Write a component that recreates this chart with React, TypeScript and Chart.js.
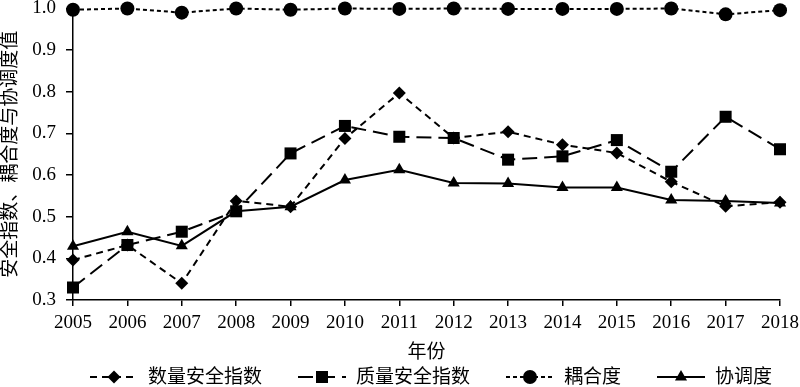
import React, { useEffect, useRef } from 'react';
import { Chart, registerables } from 'chart.js';

Chart.register(...registerables);

const years = ['2005', '2006', '2007', '2008', '2009', '2010', '2011', '2012', '2013', '2014', '2015', '2016', '2017', '2018'];
const quantityIndex = [0.396, 0.432, 0.340, 0.538, 0.524, 0.688, 0.797, 0.689, 0.704, 0.673, 0.653, 0.584, 0.525, 0.535];
const qualityIndex = [0.330, 0.432, 0.464, 0.513, 0.652, 0.718, 0.692, 0.689, 0.637, 0.645, 0.684, 0.608, 0.740, 0.662];
const couplingDegree = [0.997, 1.0, 0.990, 1.0, 0.997, 1.0, 0.999, 1.0, 0.999, 0.999, 0.999, 1.0, 0.986, 0.996];
const coordinationDegree = [0.429, 0.464, 0.430, 0.513, 0.524, 0.588, 0.613, 0.581, 0.580, 0.570, 0.570, 0.540, 0.538, 0.533];
const seriesNames = ['数量安全指数', '质量安全指数', '耦合度', '协调度'];
const xTitle = '年份';
const yTitle = '安全指数、耦合度与协调度值';
const yMin = 0.3;
const yMax = 1.0;
const yStep = 0.1;

const FONT = "'Liberation Serif', 'Noto Sans CJK SC', serif";

function drawMarker(ctx: CanvasRenderingContext2D, style: string, x: number, y: number, r: number) {
  ctx.beginPath();
  if (style === 'circle') {
    ctx.arc(x, y, r, 0, Math.PI * 2);
  } else if (style === 'rect') {
    const s = Math.SQRT1_2 * r;
    ctx.rect(x - s, y - s, 2 * s, 2 * s);
  } else if (style === 'rectRot') {
    ctx.moveTo(x, y - r);
    ctx.lineTo(x + r, y);
    ctx.lineTo(x, y + r);
    ctx.lineTo(x - r, y);
    ctx.closePath();
  } else if (style === 'triangle') {
    const a = -Math.PI / 2;
    for (let i = 0; i < 3; i++) {
      const ang = a + (i * 2 * Math.PI) / 3;
      const px = x + Math.cos(ang) * r;
      const py = y + Math.sin(ang) * r;
      if (i === 0) ctx.moveTo(px, py);
      else ctx.lineTo(px, py);
    }
    ctx.closePath();
  }
  ctx.fillStyle = '#000';
  ctx.fill();
}

const lineLegend = {
  id: 'lineLegend',
  afterDraw(chart: any) {
    const ctx: CanvasRenderingContext2D = chart.ctx;
    const y = 377;
    let x = 90;
    ctx.save();
    ctx.font = `19px ${FONT}`;
    ctx.textBaseline = 'middle';
    ctx.textAlign = 'left';
    chart.data.datasets.forEach((ds: any) => {
      const w = 48;
      ctx.strokeStyle = '#000';
      ctx.lineWidth = 2;
      ctx.setLineDash(ds.borderDash || []);
      ctx.beginPath();
      ctx.moveTo(x, y);
      ctx.lineTo(x + w, y);
      ctx.stroke();
      ctx.setLineDash([]);
      drawMarker(ctx, ds.pointStyle, x + w / 2, y, ds.pointRadius);
      ctx.fillStyle = '#000';
      ctx.fillText(ds.label, x + w + 10, y + 1);
      x += w + 10 + ctx.measureText(ds.label).width + 36;
    });
    ctx.restore();
  },
};

export default function App() {
  const ref = useRef<HTMLCanvasElement | null>(null);

  useEffect(() => {
    if (!ref.current) return;
    const common = {
      borderColor: '#000',
      backgroundColor: '#000',
      pointBackgroundColor: '#000',
      pointBorderColor: '#000',
      pointBorderWidth: 0,
      borderWidth: 2,
      tension: 0,
      fill: false,
      clip: false as any,
    };
    const chart = new Chart(ref.current, {
      type: 'line',
      data: {
        labels: years,
        datasets: [
          { ...common, label: seriesNames[0], data: quantityIndex, borderDash: [7, 5], pointStyle: 'rectRot', pointRadius: 6.5 },
          { ...common, label: seriesNames[1], data: qualityIndex, borderDash: [15, 7], pointStyle: 'rect', pointRadius: 8.5 },
          { ...common, label: seriesNames[2], data: couplingDegree, borderDash: [4, 3], pointStyle: 'circle', pointRadius: 7 },
          { ...common, label: seriesNames[3], data: coordinationDegree, borderDash: [], pointStyle: 'triangle', pointRadius: 7 },
        ],
      },
      options: {
        animation: false,
        responsive: false,
        layout: { padding: { left: 0, right: 20, top: 8, bottom: 0 } },
        plugins: { legend: { display: false }, tooltip: { enabled: false } },
        scales: {
          x: {
            type: 'category',
            offset: false,
            grid: { display: true, drawOnChartArea: false, drawTicks: true, tickLength: 6, color: '#000', lineWidth: 1.5 },
            border: { display: true, color: '#000', width: 1.5 },
            ticks: { color: '#000', font: { family: FONT, size: 19 }, padding: 6, maxRotation: 0, autoSkip: false },
            title: { display: true, text: xTitle, color: '#000', font: { family: FONT, size: 19, lineHeight: 1.2 }, padding: { top: 0, bottom: 23 } },
            afterFit(s: any) {
              s.height = 87;
              s.paddingLeft = 0;
              s.paddingRight = 0;
            },
          },
          y: {
            min: yMin,
            max: yMax,
            grid: { display: true, drawOnChartArea: false, drawTicks: true, tickLength: 7, color: '#000', lineWidth: 1.5 },
            border: { display: true, color: '#000', width: 1.5 },
            ticks: { stepSize: yStep, color: '#000', font: { family: FONT, size: 19 }, padding: 10, callback: (v: any) => Number(v).toFixed(1) },
            title: { display: true, text: yTitle, color: '#000', font: { family: FONT, size: 19, lineHeight: 1.2 }, padding: { top: 0, bottom: 0 } },
            afterFit(s: any) {
              s.width = 73;
              s.paddingTop = 0;
              s.paddingBottom = 0;
            },
          },
        },
      },
      plugins: [lineLegend],
    });
    return () => chart.destroy();
  }, []);

  return (
    <div style={{ position: 'absolute', left: 0, top: 0, width: 800, height: 387, background: '#fff' }}>
      <canvas ref={ref} width={800} height={387} style={{ display: 'block', width: 800, height: 387 }} />
    </div>
  );
}
